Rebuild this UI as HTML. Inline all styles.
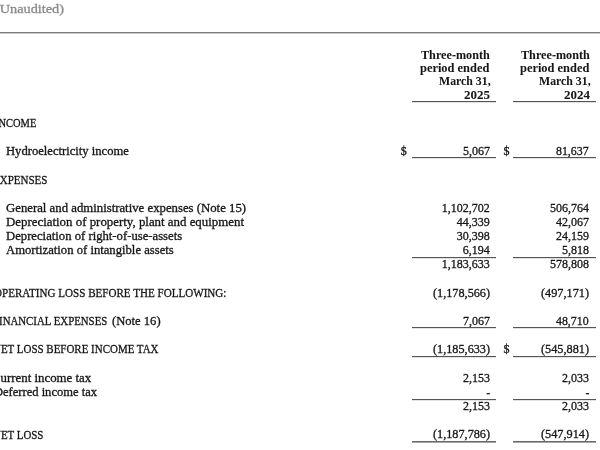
<!DOCTYPE html>
<html><head><meta charset="utf-8"><title>Statement</title>
<style>
html,body{margin:0;padding:0;background:#fff;}
body{width:600px;height:450px;overflow:hidden;position:relative;font-family:"Liberation Serif",serif;color:#161616;-webkit-text-stroke-width:0.3px;}
.t{position:absolute;white-space:pre;line-height:16px;height:16px;transform-origin:0 0;}
.b{font-weight:bold;-webkit-text-stroke-width:0.05px;}
.ln{position:absolute;height:1px;background:#555;}
</style></head><body>
<div class="t" style="left:-5.5px;top:1.4px;font-size:13.5px;transform:scaleX(1.058);color:#8a8a8a;">(Unaudited)</div>
<div class="t b" style="left:420.8px;top:47.1px;font-size:11.5px;transform:scaleX(1.059);">Three-month</div>
<div class="t b" style="left:420.3px;top:60.1px;font-size:11.5px;transform:scaleX(1.079);">period ended</div>
<div class="t b" style="left:438.7px;top:73.1px;font-size:11.5px;transform:scaleX(1.027);">March 31,</div>
<div class="t b" style="left:463.7px;top:87.1px;font-size:11.5px;transform:scaleX(1.126);">2025</div>
<div class="t b" style="left:520.8px;top:47.1px;font-size:11.5px;transform:scaleX(1.059);">Three-month</div>
<div class="t b" style="left:520.3px;top:60.1px;font-size:11.5px;transform:scaleX(1.079);">period ended</div>
<div class="t b" style="left:538.7px;top:73.1px;font-size:11.5px;transform:scaleX(1.027);">March 31,</div>
<div class="t b" style="left:563.7px;top:87.1px;font-size:11.5px;transform:scaleX(1.126);">2024</div>
<div class="t" style="left:-5.5px;top:115.0px;font-size:12px;transform:scaleX(0.872);">INCOME</div>
<div class="t" style="left:6.4px;top:142.9px;font-size:12px;transform:scaleX(1.051);">Hydroelectricity income</div>
<div class="t" style="left:400.8px;top:142.9px;font-size:12px;">$</div>
<div class="t" style="left:462.9px;top:142.9px;font-size:12px;">5,067</div>
<div class="t" style="left:503.6px;top:142.9px;font-size:12px;">$</div>
<div class="t" style="left:556.3px;top:142.9px;font-size:12px;transform:scaleX(0.988);">81,637</div>
<div class="t" style="left:-6.9px;top:171.9px;font-size:12px;transform:scaleX(0.918);">EXPENSES</div>
<div class="t" style="left:6.3px;top:199.9px;font-size:12px;transform:scaleX(1.064);">General and administrative expenses (Note 15)</div>
<div class="t" style="left:6.3px;top:213.9px;font-size:12px;transform:scaleX(1.073);">Depreciation of property, plant and equipment</div>
<div class="t" style="left:6.3px;top:227.9px;font-size:12px;transform:scaleX(1.057);">Depreciation of right-of-use-assets</div>
<div class="t" style="left:6.3px;top:241.9px;font-size:12px;transform:scaleX(1.055);">Amortization of intangible assets</div>
<div class="t" style="left:441.8px;top:199.9px;font-size:12px;">1,102,702</div>
<div class="t" style="left:549.9px;top:199.9px;font-size:12px;">506,764</div>
<div class="t" style="left:456.8px;top:213.9px;font-size:12px;">44,339</div>
<div class="t" style="left:555.9px;top:213.9px;font-size:12px;">42,067</div>
<div class="t" style="left:456.8px;top:227.9px;font-size:12px;">30,398</div>
<div class="t" style="left:555.9px;top:227.9px;font-size:12px;">24,159</div>
<div class="t" style="left:462.8px;top:241.9px;font-size:12px;">6,194</div>
<div class="t" style="left:561.9px;top:241.9px;font-size:12px;">5,818</div>
<div class="t" style="left:441.8px;top:255.9px;font-size:12px;">1,183,633</div>
<div class="t" style="left:549.9px;top:255.9px;font-size:12px;">578,808</div>
<div class="t" style="left:-6.4px;top:284.9px;font-size:12px;transform:scaleX(0.923);">OPERATING LOSS BEFORE THE FOLLOWING:</div>
<div class="t" style="left:432.9px;top:284.9px;font-size:12px;transform:scaleX(1.019);">(1,178,566)</div>
<div class="t" style="left:541.2px;top:284.9px;font-size:12px;transform:scaleX(1.021);">(497,171)</div>
<div class="t" style="left:-6.7px;top:312.9px;font-size:12px;transform:scaleX(0.903);">FINANCIAL EXPENSES</div>
<div class="t" style="left:111.6px;top:312.9px;font-size:12px;transform:scaleX(1.049);">(Note 16)</div>
<div class="t" style="left:462.9px;top:312.9px;font-size:12px;transform:scaleX(0.996);">7,067</div>
<div class="t" style="left:556.3px;top:312.9px;font-size:12px;transform:scaleX(0.988);">48,710</div>
<div class="t" style="left:-6.8px;top:340.9px;font-size:12px;transform:scaleX(0.913);">NET LOSS BEFORE INCOME TAX</div>
<div class="t" style="left:432.9px;top:340.9px;font-size:12px;transform:scaleX(1.019);">(1,185,633)</div>
<div class="t" style="left:503.4px;top:340.9px;font-size:12px;">$</div>
<div class="t" style="left:541.2px;top:340.9px;font-size:12px;transform:scaleX(1.021);">(545,881)</div>
<div class="t" style="left:-8.2px;top:369.9px;font-size:12px;transform:scaleX(1.071);">Current income tax</div>
<div class="t" style="left:-6.0px;top:383.9px;font-size:12px;transform:scaleX(1.044);">Deferred income tax</div>
<div class="t" style="left:462.9px;top:369.9px;font-size:12px;transform:scaleX(0.996);">2,153</div>
<div class="t" style="left:561.9px;top:369.9px;font-size:12px;">2,033</div>
<div class="t b" style="left:486.3px;top:384.9px;font-size:12px;">-</div>
<div class="t b" style="left:585.4px;top:384.9px;font-size:12px;">-</div>
<div class="t" style="left:462.9px;top:397.9px;font-size:12px;transform:scaleX(0.996);">2,153</div>
<div class="t" style="left:561.9px;top:397.9px;font-size:12px;">2,033</div>
<div class="t" style="left:-6.8px;top:426.9px;font-size:12px;transform:scaleX(0.909);">NET LOSS</div>
<div class="t" style="left:432.9px;top:425.9px;font-size:12px;transform:scaleX(1.019);">(1,187,786)</div>
<div class="t" style="left:541.2px;top:425.9px;font-size:12px;transform:scaleX(1.021);">(547,914)</div>
<div class="ln" style="left:0;top:32px;width:600px;background:#7c7c7c;box-shadow:0 1px 0 #c8c8c8;"></div>
<div class="ln" style="left:411.7px;top:101.0px;width:84.5px;box-shadow:0 1px 0 rgba(60,60,60,0.15);"></div>
<div class="ln" style="left:513px;top:101.0px;width:83px;box-shadow:0 1px 0 rgba(60,60,60,0.15);"></div>
<div class="ln" style="left:411.7px;top:157.0px;width:84.5px;box-shadow:0 1px 0 rgba(60,60,60,0.15);"></div>
<div class="ln" style="left:513px;top:157.0px;width:83px;box-shadow:0 1px 0 rgba(60,60,60,0.15);"></div>
<div class="ln" style="left:411.7px;top:256.5px;width:84.5px;box-shadow:0 1px 0 rgba(60,60,60,0.15);"></div>
<div class="ln" style="left:513px;top:256.5px;width:83px;box-shadow:0 1px 0 rgba(60,60,60,0.15);"></div>
<div class="ln" style="left:411.7px;top:327.3px;width:84.5px;box-shadow:0 1px 0 rgba(60,60,60,0.15);"></div>
<div class="ln" style="left:513px;top:327.3px;width:83px;box-shadow:0 1px 0 rgba(60,60,60,0.15);"></div>
<div class="ln" style="left:411.7px;top:356.2px;width:84.5px;box-shadow:0 1px 0 rgba(60,60,60,0.15);"></div>
<div class="ln" style="left:513px;top:356.2px;width:83px;box-shadow:0 1px 0 rgba(60,60,60,0.15);"></div>
<div class="ln" style="left:411.7px;top:398.8px;width:84.5px;box-shadow:0 1px 0 rgba(60,60,60,0.15);"></div>
<div class="ln" style="left:513px;top:398.8px;width:83px;box-shadow:0 1px 0 rgba(60,60,60,0.15);"></div>
<div class="ln" style="left:411.7px;top:441.2px;width:84.5px;background:#6a6a6a;box-shadow:0 1px 0 rgba(60,60,60,0.45);"></div>
<div class="ln" style="left:513px;top:441.2px;width:83px;background:#6a6a6a;box-shadow:0 1px 0 rgba(60,60,60,0.45);"></div>
</body></html>
